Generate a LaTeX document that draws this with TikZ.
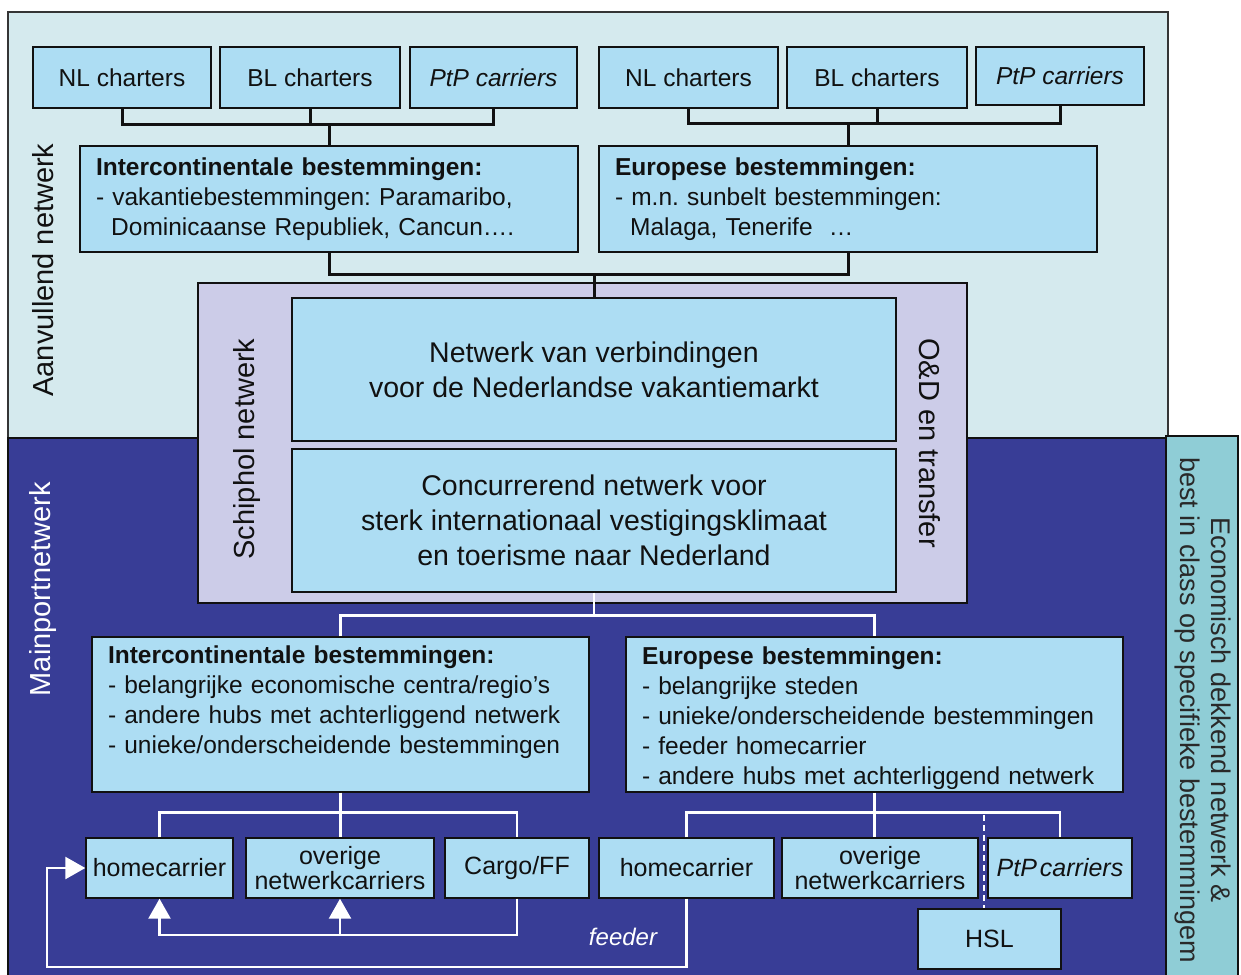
\documentclass[tikz,border=0pt]{standalone}
\usepackage{fontspec}
\setmainfont{Liberation Sans}
\usetikzlibrary{arrows.meta,calc}
\definecolor{bgtop}{RGB}{213,234,238}
\definecolor{navy}{RGB}{56,61,150}
\definecolor{boxblue}{RGB}{173,221,243}
\definecolor{lav}{RGB}{204,204,232}
\definecolor{tealstrip}{RGB}{143,205,214}
\definecolor{ink}{RGB}{17,17,17}
\frenchspacing
\begin{document}
\begin{tikzpicture}[x=1pt,y=-1pt,
  cbox/.style={draw=ink, line width=1.4pt, fill=boxblue, text=ink, inner sep=0pt, align=center,
    font=\fontsize{24.5}{30}\selectfont},
  lbox/.style={cbox, align=left, inner xsep=16pt},
  mbox/.style={cbox, font=\fontsize{28.5}{35}\selectfont},
  sbox/.style={cbox, font=\fontsize{25}{23}\selectfont},
  vlab/.style={font=\fontsize{29}{29}\selectfont, inner sep=0pt},
  bline/.style={draw=ink, line width=3pt},
  wline/.style={draw=white, line width=2.5pt},
  wtip/.style={-{Triangle[width=22pt,length=20pt,fill=white]}}
]
\useasboundingbox (0,0) rectangle (1241,974);

% background regions
\fill[white] (0,0) rectangle (1241,974);
\draw[draw=ink!85, line width=1.2pt, fill=bgtop] (8,12) rectangle (1168,438);
\draw[draw=ink, line width=1.2pt, fill=navy] (8,438) rectangle (1166,980);
\draw[draw=ink, line width=1.2pt, fill=tealstrip] (1166,436) rectangle (1238,980);

% side labels
\node[vlab, rotate=90, text=ink] (aanv) at (43,270) {Aanvullend netwerk};
\node[vlab, rotate=90, text=white] (mainp) at (43,589) {Mainportnetwerk};
\node[rotate=-90, align=center, text=ink!90, inner sep=0pt,
      font=\fontsize{27}{31}\selectfont] (econ) at (1203,710)
      {Economisch dekkend netwerk \&\\best in class op specifieke bestemmingem};

% Schiphol block
\node[draw=ink, line width=1.4pt, fill=lav, minimum width=769pt, minimum height=320pt, inner sep=0pt] (schip) at (582.5,443) {};
\node[vlab, rotate=90, text=ink] (schlab) at (247,449) {Schiphol netwerk};
\node[vlab, rotate=-90, text=ink] (odlab) at (930,443) {O\&D en transfer};

\node[mbox, minimum width=604pt, minimum height=143pt] (in1) at (594,369.5)
  {Netwerk van verbindingen\\voor de Nederlandse vakantiemarkt};
\node[mbox, minimum width=604pt, minimum height=143pt] (in2) at (594,520.5)
  {Concurrerend netwerk voor\\sterk internationaal vestigingsklimaat\\en toerisme naar Nederland};

% top row
\node[cbox, minimum width=178pt, minimum height=61pt] (nl1) at (122,77.5) {NL charters};
\node[cbox, minimum width=180pt, minimum height=61pt] (bl1) at (310,77.5) {BL charters};
\node[cbox, minimum width=167pt, minimum height=61pt] (ptp1) at (493.5,77.5) {\itshape PtP carriers};
\node[cbox, minimum width=179pt, minimum height=61pt] (nl2) at (688.5,77.5) {NL charters};
\node[cbox, minimum width=180pt, minimum height=61pt] (bl2) at (877,77.5) {BL charters};
\node[cbox, minimum width=168pt, minimum height=58pt] (ptp2) at (1060,76) {\itshape PtP carriers};

\node[lbox, minimum width=498pt, text width=466pt, minimum height=106pt] (ic1) at (329,199)
  {\textbf{Intercontinentale bestemmingen:}\\- vakantiebestemmingen: Paramaribo,\\\hspace*{0.62em}Dominicaanse Republiek, Cancun….};
\node[lbox, minimum width=498pt, text width=466pt, minimum height=106pt] (eu1) at (848,199)
  {\textbf{Europese bestemmingen:}\\- m.n. sunbelt bestemmingen:\\\hspace*{0.62em}Malaga, Tenerife\ \ …};

% lower destination boxes
\node[lbox, minimum width=497pt, text width=465pt, minimum height=155pt] (ic2) at (340.5,714.5)
  {\textbf{Intercontinentale bestemmingen:}\\- belangrijke economische centra/regio’s\\- andere hubs met achterliggend netwerk\\- unieke/onderscheidende bestemmingen\\\mbox{}};
\node[lbox, minimum width=497pt, text width=465pt, minimum height=155pt] (eu2) at (874.5,714.5)
  {\rule{0pt}{26pt}\textbf{Europese bestemmingen:}\\- belangrijke steden\\- unieke/onderscheidende bestemmingen\\- feeder homecarrier\\- andere hubs met achterliggend netwerk};

% carrier row
\node[sbox, minimum width=147pt, minimum height=60pt] (hc1) at (159.5,868) {homecarrier};
\node[sbox, minimum width=188pt, minimum height=60pt] (ov1) at (340,868) {overige\\netwerkcarriers};
\node[sbox, minimum width=144pt, minimum height=60pt] (cargo) at (517,868) {Cargo/FF};
\node[sbox, minimum width=175pt, minimum height=60pt] (hc2) at (686.5,868) {homecarrier};
\node[sbox, minimum width=196pt, minimum height=60pt] (ov2) at (880,868) {overige\\netwerkcarriers};
\node[sbox, minimum width=144pt, minimum height=60pt] (ptp3) at (1060,868) {\itshape PtP\hspace{0.12em}carriers};
\node[sbox, minimum width=143pt, minimum height=60pt] (hsl) at (989.5,939) {HSL};

\node[text=white, font=\fontsize{24}{24}\selectfont\itshape, inner sep=0pt] (feed) at (623,937) {feeder};

% top black connectors
\path (ic1.north) ++(0,-21) coordinate (j1);
\draw[bline] (nl1.south) |- (j1) -| (ptp1.south);
\draw[bline] (bl1.south) -- (bl1.south |- j1);
\draw[bline] (j1) -- (ic1.north);
\path (eu1.north) ++(0,-22) coordinate (j2);
\draw[bline] (nl2.south) |- (j2) -| (ptp2.south);
\draw[bline] (bl2.south) -- (bl2.south |- j2);
\draw[bline] (j2) -- (eu1.north);
\path (ic1.south) ++(0,22) coordinate (j3);
\draw[bline] (ic1.south) -- (j3) -| (eu1.south);
\draw[bline] (in1.north |- j3) -- (in1.north);

% white connectors
\path (in2.south) ++(0,23) coordinate (j4);
\draw[wline] (in2.south) -- (j4);
\draw[wline] (ic2.north) |- (j4) -| (eu2.north);
\path (ic2.south) ++(0,20) coordinate (j5);
\draw[wline] (ic2.south) -- (ic2.south |- ov1.north);
\draw[wline] (hc1.north) |- (j5) -| (cargo.north);
\path (eu2.south) ++(0,20) coordinate (j6);
\draw[wline] (eu2.south) -- (eu2.south |- ov2.north);
\draw[wline] (hc2.north) |- (j6) -| (ptp3.north);
\coordinate (dtop) at (984,815);
\draw[wline, dash pattern=on 6pt off 4pt] (dtop) -- (dtop |- hsl.north);

% loops with arrows
\coordinate (lb) at (0,935);
\draw[wline, wtip] (cargo.south) |- (hc1.south |- lb) -- (hc1.south);
\draw[wline, wtip] (ov1.south |- lb) -- (ov1.south);
\coordinate (fl) at (47,967);
\draw[wline, wtip] (hc2.south) |- (fl) |- (hc1.west);
\end{tikzpicture}
\end{document}
